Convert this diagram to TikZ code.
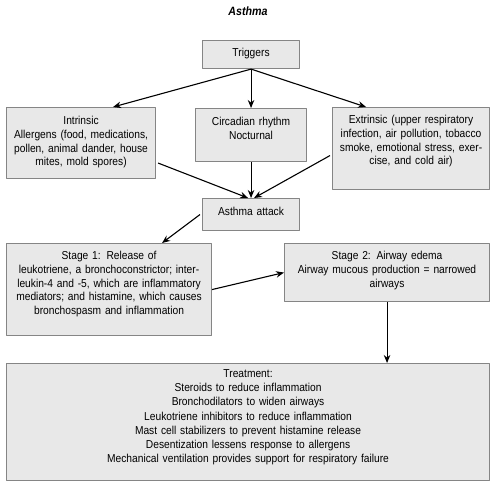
\documentclass[tikz,border=0pt]{standalone}
\usepackage{fontspec}
\setmainfont[FakeStretch=0.89]{Liberation Sans}
\usetikzlibrary{arrows.meta}
\tikzset{
  box/.style={draw=black!48, fill=black!9, line width=1.1pt, anchor=north west,
    align=center, inner xsep=3pt, inner ysep=0pt},
  arr/.style={->, line width=1.1pt}
}
\begin{document}
\begin{tikzpicture}[x=1pt, y=-1pt, >={Stealth[length=8pt,width=6.5pt]},
    font=\fontsize{11.5}{13.8}\selectfont, line join=round]
  \useasboundingbox (0,0) rectangle (500,488);
  \node (title) at (248,11) {\fontsize{12}{13}\selectfont\bfseries\itshape Asthma};
  % Boxes: top left corner, width, first baseline
  \node[box, text width=91pt, text height=16pt, text depth=12pt] (trig) at (202,40) {Triggers};
  \node[box, text width=143pt, text height=17pt, text depth=54pt] (intr) at (6,107)
    {Intrinsic\\Allergens (food, medications,\\pollen, animal dander, house\\mites, mold spores)};
  \node[box, text width=105pt, text height=17pt, text depth=36pt] (circ) at (195,108)
    {Circadian rhythm\\Nocturnal};
  \node[box, text width=151pt, text height=16pt, text depth=66pt] (extr) at (332,107)
    {Extrinsic (upper respiratory\\infection, air pollution, tobacco\\smoke, emotional stress, exer-\\cise, and cold air)};
  \node[box, text width=91pt, text height=17pt, text depth=15pt] (att) at (202,198) {Asthma attack};
  \node[box, text width=199pt, text height=16pt, text depth=76pt] (st1) at (6,243)
    {Stage 1: Release of\\leukotriene, a bronchoconstrictor; inter-\\leukin-4 and -5, which are inflammatory\\mediators; and histamine, which causes\\bronchospasm and inflammation};
  \node[box, text width=199pt, text height=16pt, text depth=42pt] (st2) at (284,243)
    {Stage 2: Airway edema\\Airway mucous production = narrowed\\airways};
  \node[box, text width=477pt, text height=14pt, text depth=103pt,
    font=\fontsize{11.5}{14.2}\selectfont] (treat) at (6,363)
    {Treatment:\\Steroids to reduce inflammation\\Bronchodilators to widen airways\\Leukotriene inhibitors to reduce inflammation\\Mast cell stabilizers to prevent histamine release\\Desentization lessens response to allergens\\Mechanical ventilation provides support for respiratory failure};
  % Connectors
  \draw[arr] (trig.south) -- ([xshift=32pt]intr.north);
  \draw[arr] (trig.south) -- (circ.north);
  \draw[arr] (trig.south) -- ([xshift=-45pt]extr.north);
  \draw[arr] ([xshift=2pt,yshift=-20pt]intr.east) -- ([xshift=-3pt]att.north);
  \draw[arr] (circ.south) -- (att.north);
  \draw[arr] ([xshift=-2pt,yshift=-7pt]extr.west) -- ([xshift=3pt]att.north);
  \draw[arr] ([xshift=-2pt]att.west) -- ([xshift=53pt]st1.north);
  \draw[arr] (st1.east) -- (st2.west);
  \draw[arr] (st2.south) -- (st2.south |- treat.north);
\end{tikzpicture}
\end{document}
